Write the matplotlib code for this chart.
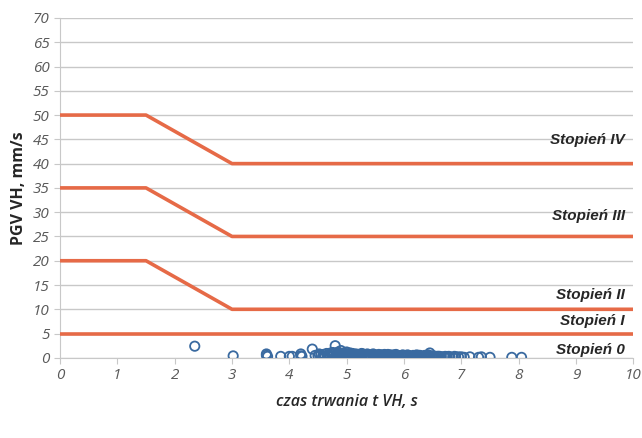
import matplotlib.pyplot as plt

# threshold lines (duration s, PGV mm/s)
thr_x = [0, 1.5, 3, 10]
thr_iv = [50, 50, 40, 40]
thr_iii = [35, 35, 25, 25]
thr_ii = [20, 20, 10, 10]
thr_i = [5, 5, 5, 5]

level_names = ["Stopień IV", "Stopień III", "Stopień II", "Stopień I", "Stopień 0"]
level_y = [44.9, 29.3, 12.9, 7.6, 1.6]

# measured events
dur = [2.35, 3.02, 3.6, 3.6, 3.62, 3.85, 4.0, 4.05, 4.2, 4.2, 4.22, 4.4, 4.45, 4.5,
       4.55, 4.6, 4.62, 4.65, 4.7, 4.72, 4.75, 4.78, 4.8, 4.82, 4.85, 4.88, 4.9,
       4.92, 4.95, 4.98, 5.0, 5.02, 5.05, 5.08, 5.1, 5.12, 5.15, 5.18, 5.2, 5.25,
       5.3, 5.32, 5.35, 5.4, 5.42, 5.45, 5.5, 5.52, 5.55, 5.6, 5.62, 5.65, 5.7,
       5.75, 5.78, 5.8, 5.85, 5.9, 5.92, 5.95, 6.0, 6.02, 6.05, 6.1, 6.12, 6.15,
       6.2, 6.25, 6.3, 6.32, 6.35, 6.4, 6.45, 6.45, 6.5, 6.55, 6.6, 6.65, 6.7,
       6.75, 6.8, 6.85, 6.9, 6.95, 7.0, 7.05, 7.15, 7.3, 7.35, 7.5, 7.88, 8.05,
       4.8, 4.9, 5.0, 4.7, 5.1, 5.3, 5.6, 5.8, 6.0, 6.2, 4.6, 4.85, 5.2, 5.5,
       4.52, 4.58, 4.68, 4.74, 4.84, 4.94, 5.04, 5.14, 5.22, 5.28, 5.38, 5.48,
       5.58, 5.68, 5.72, 5.82, 5.88, 5.98, 6.08, 6.18, 6.22, 6.28, 6.38, 6.48,
       4.76, 4.86, 4.96, 5.06, 5.16, 5.26, 5.36, 5.46, 5.56, 5.66, 5.76, 5.86,
       5.96, 6.06, 6.16, 6.26, 6.36, 6.42, 6.52, 6.58, 6.62, 6.72, 6.78, 6.88]
pgv = [2.4, 0.4, 0.5, 0.8, 0.3, 0.3, 0.3, 0.3, 0.8, 0.4, 0.3, 1.8, 0.5, 0.4,
       0.6, 0.7, 0.3, 0.9, 0.5, 1.0, 0.4, 0.8, 2.5, 0.6, 1.2, 0.4, 1.5,
       0.7, 1.0, 0.5, 1.2, 0.3, 0.8, 0.5, 0.9, 0.3, 0.6, 0.4, 0.7, 0.5,
       0.3, 0.6, 0.4, 0.5, 0.2, 0.6, 0.4, 0.2, 0.5, 0.3, 0.6, 0.2, 0.4,
       0.3, 0.5, 0.2, 0.4, 0.3, 0.2, 0.4, 0.3, 0.2, 0.4, 0.2, 0.3, 0.2,
       0.3, 0.2, 0.3, 0.1, 0.2, 0.3, 0.2, 1.0, 0.2, 0.2, 0.3, 0.2, 0.2,
       0.2, 0.2, 0.1, 0.2, 0.2, 0.2, 0.1, 0.2, 0.1, 0.2, 0.1, 0.1, 0.1,
       0.2, 0.3, 0.2, 0.3, 0.2, 0.1, 0.1, 0.1, 0.1, 0.1, 0.2, 0.1, 0.1, 0.1,
       0.8, 0.3, 0.6, 0.9, 0.7, 0.8, 0.6, 0.7, 0.6, 0.8, 0.5, 0.7,
       0.6, 0.5, 0.7, 0.6, 0.5, 0.6, 0.5, 0.4, 0.6, 0.5, 0.4, 0.4,
       1.1, 0.9, 0.9, 1.0, 0.8, 0.9, 0.8, 0.8, 0.7, 0.7, 0.6, 0.7,
       0.5, 0.6, 0.5, 0.5, 0.5, 0.6, 0.4, 0.3, 0.3, 0.3, 0.3, 0.3]

line_col = "#e66a47"
dot_col = "#3a6aa0"
tick_col = "#595959"

fig = plt.figure(figsize=(6.42, 4.38), dpi=100)
ax = fig.add_axes([0.0935, 0.183, 0.893, 0.776])

for ys in (thr_iv, thr_iii, thr_ii, thr_i):
    ax.plot(thr_x, ys, color=line_col, lw=2.6, solid_capstyle="butt", zorder=3)

ax.scatter(dur, pgv, s=45, facecolors="none", edgecolors=dot_col, linewidths=1.3, zorder=4)

for name, yv in zip(level_names, level_y):
    ax.text(9.85, yv, name, ha="right", va="center", fontsize=11,
            fontstyle="italic", fontweight="bold", family="Liberation Sans",
            color="#262626", zorder=5)

ax.set_xlim(0, 10)
ax.set_ylim(0, 70)
ax.set_xticks(range(0, 11))
ax.set_yticks(range(0, 71, 5))
ax.yaxis.grid(True, color="#c8c8c8", lw=1)
ax.set_axisbelow(True)
for s in ("top", "right"):
    ax.spines[s].set_visible(False)
ax.spines["left"].set_color("#c8c8c8")
ax.spines["bottom"].set_color("#c8c8c8")
ax.tick_params(axis="both", colors="#c8c8c8", labelcolor=tick_col, length=4, labelsize=11)
for lab in ax.get_xticklabels() + ax.get_yticklabels():
    lab.set_fontstyle("italic")
    lab.set_family("Open Sans")

ax.set_xlabel("czas trwania t VH, s", fontsize=11.5, fontstyle="italic",
              family="Open Sans", fontweight="semibold", color="#262626", labelpad=8)
ax.set_ylabel("PGV VH, mm/s", fontsize=11.5, family="Open Sans",
              fontweight="bold", color="#262626", labelpad=4)

fig.savefig("out.png", dpi=100)
